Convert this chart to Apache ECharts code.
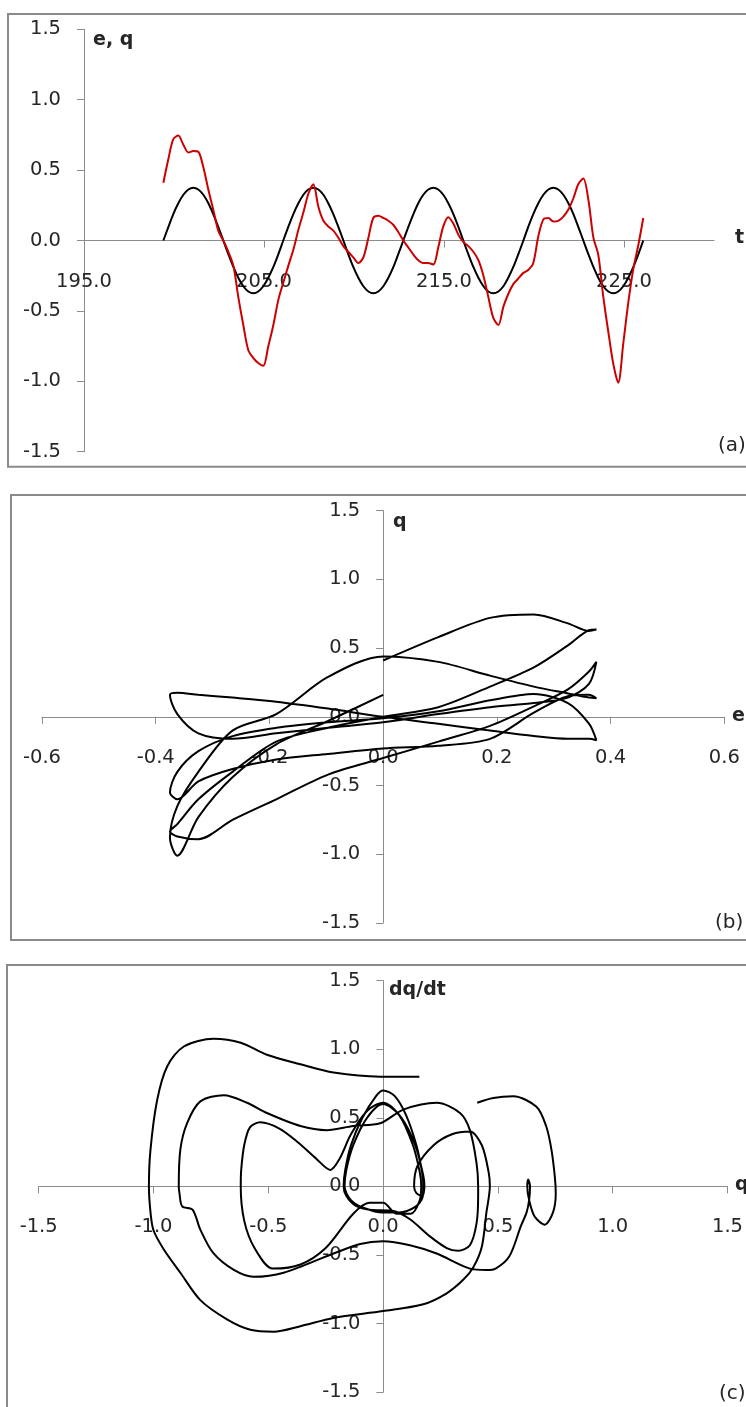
<!DOCTYPE html>
<html>
<head>
<meta charset="utf-8">
<script src="https://cdn.jsdelivr.net/npm/echarts@6/dist/echarts.min.js"></script>
<style>
  html, body { margin: 0; padding: 0; background: #fff; }
  #chart { width: 746px; height: 1407px; }
</style>
</head>
<body>
<div id="chart"></div>
<script>
// Time samples (equal steps of 1/24 of the forcing period)
const tValues = [
  199.41, 199.69, 199.96, 200.24, 200.52, 200.80, 201.07, 201.35, 201.63, 201.91, 202.18, 202.46,
  202.74, 203.02, 203.30, 203.57, 203.85, 204.13, 204.41, 204.68, 204.96, 205.24, 205.52, 205.80,
  206.07, 206.35, 206.63, 206.91, 207.19, 207.46, 207.74, 208.02, 208.30, 208.57, 208.85, 209.13,
  209.41, 209.68, 209.96, 210.24, 210.52, 210.80, 211.07, 211.35, 211.63, 211.91, 212.19, 212.46,
  212.74, 213.02, 213.30, 213.57, 213.85, 214.13, 214.41, 214.68, 214.96, 215.24, 215.52, 215.80,
  216.07, 216.35, 216.63, 216.91, 217.19, 217.46, 217.74, 218.02, 218.30, 218.57, 218.85, 219.13,
  219.41, 219.68, 219.96, 220.24, 220.52, 220.80, 221.07, 221.35, 221.63, 221.91, 222.19, 222.46,
  222.74, 223.02, 223.30, 223.57, 223.85, 224.13, 224.41, 224.68, 224.96, 225.24, 225.52, 225.80,
  226.07
];

// Forcing e(t)
const eValues = [
  0.000, 0.097, 0.188, 0.265, 0.325, 0.362, 0.375, 0.362, 0.325, 0.265, 0.188, 0.097,
  0.000, -0.097, -0.188, -0.265, -0.325, -0.362, -0.375, -0.362, -0.325, -0.265, -0.188, -0.097,
  0.000, 0.097, 0.188, 0.265, 0.325, 0.362, 0.375, 0.362, 0.325, 0.265, 0.188, 0.097,
  0.000, -0.097, -0.188, -0.265, -0.325, -0.362, -0.375, -0.362, -0.325, -0.265, -0.188, -0.097,
  0.000, 0.097, 0.188, 0.265, 0.325, 0.362, 0.375, 0.362, 0.325, 0.265, 0.188, 0.097,
  0.000, -0.097, -0.188, -0.265, -0.325, -0.362, -0.375, -0.362, -0.325, -0.265, -0.188, -0.097,
  0.000, 0.097, 0.188, 0.265, 0.325, 0.362, 0.375, 0.362, 0.325, 0.265, 0.188, 0.097,
  0.000, -0.097, -0.188, -0.265, -0.325, -0.362, -0.375, -0.362, -0.325, -0.265, -0.188, -0.097,
  0.000
];

// Response q(t)
const qValues = [
  0.41, 0.58, 0.72, 0.745, 0.68, 0.625, 0.635, 0.63, 0.52, 0.36, 0.22, 0.07,
  0.00, -0.08, -0.18, -0.40, -0.60, -0.78, -0.835, -0.87, -0.89, -0.75, -0.60, -0.42,
  -0.30, -0.18, -0.066, 0.076, 0.20, 0.33, 0.40, 0.24, 0.14, 0.10, 0.07, 0.02,
  -0.04, -0.08, -0.12, -0.16, -0.12, 0.02, 0.16, 0.175, 0.16, 0.14, 0.11, 0.06,
  0.00, -0.05, -0.10, -0.14, -0.16, -0.16, -0.17, -0.05, 0.10, 0.166, 0.12, 0.04,
  -0.01, -0.04, -0.08, -0.14, -0.25, -0.40, -0.55, -0.60, -0.47, -0.38, -0.31, -0.27,
  -0.23, -0.21, -0.16, 0.03, 0.15, 0.16, 0.135, 0.14, 0.17, 0.22, 0.30, 0.40,
  0.44, 0.29, 0.02, -0.10, -0.40, -0.65, -0.88, -1.01, -0.73, -0.44, -0.20, -0.03,
  0.16
];

// Phase portrait (q, dq/dt), traced in time order
const phaseQ = [
  0.41, 0.48, 0.567, 0.668, 0.71, 0.733, 0.748,
  0.752, 0.74, 0.704, 0.66, 0.636, 0.628,
  0.632, 0.64,
  0.636, 0.625, 0.60, 0.55, 0.49, 0.45, 0.378, 0.233, 0.117, 0.0, -0.10, -0.216, -0.433, -0.564, -0.65, -0.74, -0.796, -0.83, -0.875, -0.887, -0.89,
  -0.883, -0.854, -0.796, -0.694, -0.593, -0.506, -0.36, -0.245, -0.13, -0.013, 0.088, 0.233, 0.335, 0.378, 0.407, 0.414,
  0.414, 0.407, 0.378, 0.327, 0.277, 0.204, 0.117, 0.045, -0.057, -0.12, -0.16, -0.172,
  -0.165, -0.14, -0.09, -0.03, 0.0, 0.05, 0.10, 0.145, 0.17, 0.175,
  0.172, 0.14, 0.07, 0.0, -0.08, -0.14, -0.168,
  -0.16, -0.13, -0.07, 0.0, 0.07, 0.13, 0.16, 0.166,
  0.16, 0.12, 0.06, 0.0, -0.06, -0.13, -0.25, -0.36, -0.48, -0.56, -0.605, -0.62,
  -0.618, -0.605, -0.58, -0.535, -0.45, -0.37, -0.29, -0.23, -0.19, -0.14, -0.07, 0.0, 0.08, 0.14, 0.175, 0.18,
  0.17, 0.145, 0.135, 0.15, 0.22, 0.30, 0.378, 0.43, 0.46, 0.465,
  0.45, 0.43, 0.393, 0.35, 0.277, 0.175, 0.0, -0.216, -0.36, -0.477, -0.578, -0.68, -0.796, -0.883, -0.955, -1.0, -1.013, -1.02,
  -1.013, -0.984, -0.94, -0.868, -0.738, -0.62, -0.506, -0.36, -0.216, -0.013, 0.158
];
const phaseV = [
  0.61, 0.645, 0.657, 0.58, 0.44, 0.27, 0.07,
  -0.05, -0.19, -0.28, -0.22, -0.10, 0.0,
  0.05, 0.0,
  -0.10, -0.19, -0.29, -0.51, -0.60, -0.61, -0.60, -0.49, -0.43, -0.40, -0.42, -0.49, -0.63, -0.66, -0.61, -0.486, -0.316, -0.17, -0.146, -0.05, 0.0,
  0.27, 0.46, 0.62, 0.665, 0.61, 0.535, 0.44, 0.41, 0.44, 0.46, 0.56, 0.61, 0.535, 0.41, 0.17, 0.0,
  -0.07, -0.27, -0.43, -0.47, -0.45, -0.365, -0.24, -0.18, -0.17, -0.14, -0.07, 0.0,
  0.12, 0.30, 0.50, 0.66, 0.70, 0.66, 0.52, 0.30, 0.10, 0.0,
  -0.08, -0.15, -0.19, -0.19, -0.16, -0.10, 0.0,
  0.12, 0.30, 0.50, 0.60, 0.52, 0.30, 0.10, 0.0,
  -0.10, -0.20, -0.20, -0.12, -0.12, -0.20, -0.45, -0.57, -0.60, -0.45, -0.25, 0.0,
  0.12, 0.30, 0.43, 0.467, 0.42, 0.32, 0.20, 0.12, 0.20, 0.38, 0.55, 0.61, 0.50, 0.30, 0.08, 0.0,
  -0.07, -0.05, 0.0, 0.15, 0.30, 0.38, 0.40, 0.30, 0.10, 0.0,
  -0.19, -0.44, -0.59, -0.68, -0.78, -0.86, -0.91, -0.96, -1.02, -1.06, -1.046, -0.97, -0.83, -0.63, -0.46, -0.32, -0.19, 0.0,
  0.27, 0.63, 0.876, 1.02, 1.076, 1.047, 0.96, 0.89, 0.83, 0.80, 0.80
];

// Axis tick values
const tTicks = [195, 205, 215, 225];

const FONT = 'DejaVu Sans';
const TEXT = '#262626';
const AXIS = '#8c8c8c';

const fmt1 = v => v.toFixed(1);

// Plot areas; every axis crosses the other one at its zero
const GRIDS = [
  { left: 84, top: 29.3, width: 630, height: 422.4 },
  { left: 42, top: 510.7, width: 682.3, height: 412.3 },
  { left: 38.7, top: 980.7, width: 689.3, height: 411.3 }
];

function axisBase(gridIndex, min, max, interval, isX, offset, ticks) {
  const axis = {
    type: 'value', gridIndex, min, max, interval,
    position: isX ? 'bottom' : 'left',
    offset,
    axisLine: { show: true, onZero: false, lineStyle: { color: AXIS, width: 1 } },
    axisTick: { show: true, inside: false, length: 7, lineStyle: { color: AXIS } },
    axisLabel: {
      show: true, color: TEXT, fontFamily: FONT, fontSize: 19.5,
      margin: isX ? 31 : 23, formatter: fmt1
    },
    splitLine: { show: false }
  };
  if (ticks) {
    axis.axisLabel.customValues = ticks;
    axis.axisTick.customValues = ticks;
  }
  return axis;
}

// offset that moves a bottom x axis up to y = 0 (symmetric y range)
const xOff = g => -g.height / 2;
// offset that moves a left y axis right to x = 0 (symmetric x range)
const yOff = g => -g.width / 2;

const chart = echarts.init(document.getElementById('chart'), null, { renderer: 'canvas', width: 746, height: 1407 });

const lineCommon = { type: 'line', showSymbol: false, symbol: 'none', animation: false, clip: true };

const option = {
  animation: false,
  backgroundColor: '#ffffff',
  grid: GRIDS,
  xAxis: [
    axisBase(0, 195, 230, 10, true, xOff(GRIDS[0]), tTicks),
    axisBase(1, -0.6, 0.6, 0.2, true, xOff(GRIDS[1])),
    axisBase(2, -1.5, 1.5, 0.5, true, xOff(GRIDS[2]))
  ],
  yAxis: [
    axisBase(0, -1.5, 1.5, 0.5, false, 0),
    axisBase(1, -1.5, 1.5, 0.5, false, yOff(GRIDS[1])),
    axisBase(2, -1.5, 1.5, 0.5, false, yOff(GRIDS[2]))
  ],
  series: [
    Object.assign({}, lineCommon, {
      name: 'e', xAxisIndex: 0, yAxisIndex: 0, smooth: 0.3,
      lineStyle: { color: '#000000', width: 2 },
      data: tValues.map((t, i) => [t, eValues[i]])
    }),
    Object.assign({}, lineCommon, {
      name: 'q', xAxisIndex: 0, yAxisIndex: 0, smooth: 0.3,
      lineStyle: { color: '#cc0000', width: 2 },
      data: tValues.map((t, i) => [t, qValues[i]])
    }),
    Object.assign({}, lineCommon, {
      name: 'q(e)', xAxisIndex: 1, yAxisIndex: 1, smooth: 0.3,
      lineStyle: { color: '#000000', width: 2 },
      data: eValues.map((e, i) => [e, qValues[i]])
    }),
    Object.assign({}, lineCommon, {
      name: 'dq/dt(q)', xAxisIndex: 2, yAxisIndex: 2, smooth: 0.3,
      lineStyle: { color: '#000000', width: 2 },
      data: phaseQ.map((q, i) => [q, phaseV[i]])
    })
  ],
  graphic: [
    { type: 'rect', shape: { x: 8, y: 14, width: 780, height: 452.7 }, style: { fill: 'none', stroke: '#8a8a8a', lineWidth: 2 }, silent: true },
    { type: 'rect', shape: { x: 11, y: 495, width: 780, height: 445 }, style: { fill: 'none', stroke: '#8a8a8a', lineWidth: 2 }, silent: true },
    { type: 'rect', shape: { x: 7, y: 965, width: 780, height: 500 }, style: { fill: 'none', stroke: '#8a8a8a', lineWidth: 2 }, silent: true },

    { type: 'text', x: 93, y: 40, style: { text: 'e, q', font: 'bold 19px "DejaVu Sans"', fill: TEXT, verticalAlign: 'middle' } },
    { type: 'text', x: 735, y: 238, style: { text: 't', font: 'bold 19px "DejaVu Sans"', fill: TEXT, verticalAlign: 'middle' } },
    { type: 'text', x: 718, y: 446, style: { text: '(a)', font: '20px "DejaVu Sans"', fill: TEXT, verticalAlign: 'middle' } },

    { type: 'text', x: 393, y: 522, style: { text: 'q', font: 'bold 19px "DejaVu Sans"', fill: TEXT, verticalAlign: 'middle' } },
    { type: 'text', x: 732, y: 716, style: { text: 'e', font: 'bold 19px "DejaVu Sans"', fill: TEXT, verticalAlign: 'middle' } },
    { type: 'text', x: 715, y: 923, style: { text: '(b)', font: '20px "DejaVu Sans"', fill: TEXT, verticalAlign: 'middle' } },

    { type: 'text', x: 389, y: 990, style: { text: 'dq/dt', font: 'bold 19px "DejaVu Sans"', fill: TEXT, verticalAlign: 'middle' } },
    { type: 'text', x: 735, y: 1185, style: { text: 'q', font: 'bold 19px "DejaVu Sans"', fill: TEXT, verticalAlign: 'middle' } },
    { type: 'text', x: 719, y: 1394, style: { text: '(c)', font: '20px "DejaVu Sans"', fill: TEXT, verticalAlign: 'middle' } }
  ]
};

chart.setOption(option);
</script>
</body>
</html>
